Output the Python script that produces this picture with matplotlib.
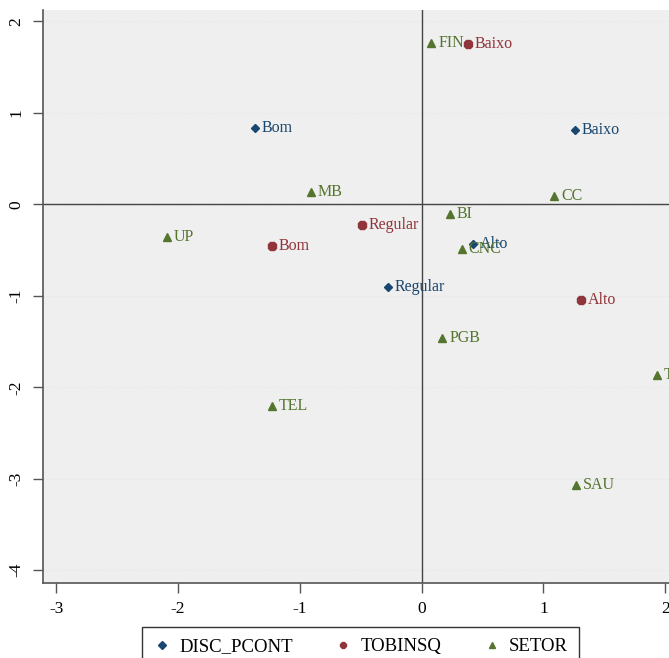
import matplotlib.pyplot as plt
from matplotlib.lines import Line2D

plt.rcParams['font.family'] = 'Liberation Serif'
plt.rcParams['axes.unicode_minus'] = False

# Coordinates (dimension 1, dimension 2)
disc_labels = ["Bom", "Baixo", "Alto", "Regular"]
disc_x = [-1.37, 1.26, 0.42, -0.28]
disc_y = [0.83, 0.81, -0.43, -0.90]

tobin_labels = ["Baixo", "Regular", "Bom", "Alto"]
tobin_x = [0.38, -0.49, -1.23, 1.31]
tobin_y = [1.75, -0.23, -0.46, -1.05]

setor_labels = ["FIN", "MB", "CC", "BI", "UP", "CNC", "PGB", "TRA", "TEL", "SAU"]
setor_x = [0.08, -0.91, 1.09, 0.23, -2.09, 0.33, 0.17, 1.93, -1.23, 1.27]
setor_y = [1.76, 0.14, 0.09, -0.11, -0.36, -0.49, -1.46, -1.87, -2.20, -3.07]

ticks_x = [-3, -2, -1, 0, 1, 2]
ticks_y = [-4, -3, -2, -1, 0, 1, 2]

navy = '#1a476f'
maroon = '#90353b'
green = '#55752f'

fig = plt.figure(figsize=(6.69, 6.58), dpi=100)
ax = fig.add_axes([0.0638, 0.114, 0.967, 0.8708])
ax.set_facecolor('#efefef')

ax.set_xlim(-3.112, 2.2)
ax.set_ylim(-4.14, 2.125)

ax.axhline(0, color='#444444', lw=1.0, zorder=1)
ax.axvline(0, color='#444444', lw=1.0, zorder=1)
ax.yaxis.grid(True, color='#e0e9ea', lw=0.8, ls=':')
ax.set_axisbelow(True)

groups = [
    (disc_x, disc_y, disc_labels, navy, 'D', 4.5),
    (tobin_x, tobin_y, tobin_labels, maroon, '8', 6),
    (setor_x, setor_y, setor_labels, green, '^', 5.5),
]
for xs, ys, labs, col, mk, ms in groups:
    ax.plot(xs, ys, ls='none', marker=mk, ms=ms, color=col, zorder=3)
    for x, y, lab in zip(xs, ys, labs):
        ax.annotate(lab, (x, y), xytext=(5, 0), textcoords='offset points',
                    va='center', ha='left', fontsize=11.5, color=col, zorder=4)

for side in ['top', 'right']:
    ax.spines[side].set_visible(False)
for side in ['left', 'bottom']:
    ax.spines[side].set_color('#555555')
    ax.spines[side].set_linewidth(1.2)

ax.set_xticks(ticks_x)
ax.set_yticks(ticks_y)
ax.tick_params(direction='out', length=7, width=1, color='#555555',
               labelsize=12.5, pad=6)
plt.setp(ax.get_yticklabels(), rotation=90, va='center')

handles = [
    Line2D([], [], ls='none', marker='D', ms=4.5, color=navy, label='DISC_PCONT'),
    Line2D([], [], ls='none', marker='8', ms=5, color=maroon, label='TOBINSQ'),
    Line2D([], [], ls='none', marker='^', ms=5, color=green, label='SETOR'),
]
leg = fig.legend(handles=handles, loc='upper left', bbox_to_anchor=(141.7 / 669, 1 - 627 / 658),
                 ncol=3, frameon=True, fancybox=False, fontsize=13.5, borderaxespad=0,
                 handletextpad=0.4, columnspacing=2.2, handlelength=1.0, borderpad=0.6)
leg.get_frame().set_edgecolor('black')
leg.get_frame().set_linewidth(1.0)

plt.savefig('out.png', dpi=100)
